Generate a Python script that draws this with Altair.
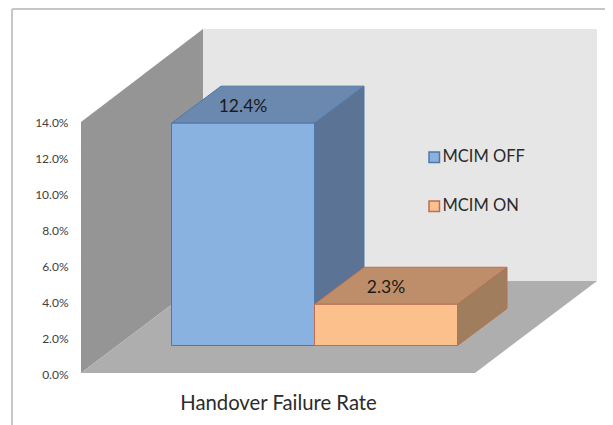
import altair as alt
import pandas as pd

# Values
series = ["MCIM OFF", "MCIM ON"]
values = [12.4, 2.3]
category = "Handover Failure Rate"
y_ticks = [0, 2, 4, 6, 8, 10, 12, 14]

# Colours
front_fill = ["#8AB2E1", "#FCC08D"]
top_fill = ["#6B88AE", "#BD8E69"]
side_fill = ["#5B7496", "#A07E5D"]
edge = ["#4F77A8", "#B86F55"]

# Layout (plot px per unit and projection offsets)
PW, PH = 524, 344
PX_PER_PCT = 17.93
WALL_DX, WALL_DY = 122, 92 / PX_PER_PCT
WALL_W, WALL_H = 394, 252 / PX_PER_PCT
BAR_DX, BAR_DY = 49.5, 37 / PX_PER_PCT
BAR_W = 143
BAR_X0 = 90.5
BAR_Y0 = 27.5 / PX_PER_PCT
FONT = "Lato"

xs = alt.Scale(domain=[0, PW], nice=False, zero=False)
ys = alt.Scale(domain=[0, PH / PX_PER_PCT], nice=False, zero=False)
xaxis = alt.Axis(title=category, labels=False, ticks=False, domain=False, grid=False,
                 titleFont=FONT, titleFontSize=20.3, titleFontWeight="normal",
                 titleColor="#2b2b2b", titleX=197, titleY=20)
yaxis = alt.Axis(title=None, values=y_ticks, labelExpr="format(datum.value, '.1f') + '%'",
                 ticks=False, domain=False, grid=False, labelPadding=13, labelOffset=1,
                 labelFont=FONT, labelFontSize=12, labelColor="#404040")
X = alt.X("x:Q", scale=xs, axis=xaxis)
Y = alt.Y("y:Q", scale=ys, axis=yaxis)


def vface(x0, x1, y0a, y0b, y1a, y1b, fill, stroke=None):
    """Face with vertical left/right sides."""
    df = pd.DataFrame({"x": [x0, x1], "y": [y0a, y1a], "y2": [y0b, y1b]})
    kw = dict(stroke=stroke, strokeWidth=1) if stroke else {}
    return alt.Chart(df).mark_area(fill=fill, opacity=1, **kw).encode(
        x=X, y=Y, y2=alt.Y2("y2:Q"))


def hface(y0, y1, x0a, x0b, x1a, x1b, fill, stroke=None):
    """Face with horizontal bottom/top sides."""
    df = pd.DataFrame({"y": [y0, y1], "x": [x0a, x1a], "x2": [x0b, x1b]})
    kw = dict(stroke=stroke, strokeWidth=1) if stroke else {}
    return alt.Chart(df).mark_area(orient="horizontal", fill=fill, opacity=1, **kw).encode(
        x=X, x2=alt.X2("x2:Q"), y=Y)


layers = [
    # Outer frame
    alt.Chart(pd.DataFrame({"a": [0]})).mark_rule(color="#C6C6C6", strokeWidth=2).encode(
        x=alt.value(-69), y=alt.value(-20), y2=alt.value(396)),
    alt.Chart(pd.DataFrame({"a": [0]})).mark_rule(color="#C6C6C6", strokeWidth=2).encode(
        x=alt.value(-69), x2=alt.value(PW), y=alt.value(-20)),
    # Back wall, side wall, floor
    vface(WALL_DX, WALL_DX + WALL_W, WALL_DY, WALL_DY + WALL_H, WALL_DY, WALL_DY + WALL_H, "#E6E6E6"),
    vface(0, WALL_DX, 0, 14, WALL_DY, WALL_DY + WALL_H, "#959595"),
    hface(0, WALL_DY, 0, WALL_W, WALL_DX, WALL_DX + WALL_W, "#AEAEAE"),
]

rows = []
for i, (name, v) in enumerate(zip(series, values)):
    x0 = BAR_X0 + i * BAR_W
    x1 = x0 + BAR_W
    top = BAR_Y0 + v
    layers.append(vface(x1, x1 + BAR_DX, BAR_Y0, top, BAR_Y0 + BAR_DY, top + BAR_DY, side_fill[i], edge[i]))
    layers.append(hface(top, top + BAR_DY, x0, x1, x0 + BAR_DX, x1 + BAR_DX, top_fill[i], edge[i]))
    rows.append(dict(series=name, value=v, x=x0, x2=x1, y=top, y2=BAR_Y0,
                     lx=(x0 + x1) / 2, ly=top + BAR_DY / 2 - 2.5 / PX_PER_PCT,
                     label=f"{v:.1f}%"))
df = pd.DataFrame(rows)

legend = alt.Legend(title=None, orient="none", legendX=345, legendY=120, symbolType="square",
                    symbolSize=110, symbolStrokeWidth=1.5, labelFont=FONT, labelFontSize=16.5,
                    labelColor="#2b2b2b", rowPadding=32, labelOffset=0)
fronts = alt.Chart(df).mark_rect(strokeWidth=1, opacity=1).encode(
    x=X, x2=alt.X2("x2:Q"), y=Y, y2=alt.Y2("y2:Q"),
    fill=alt.Fill("series:N", scale=alt.Scale(domain=series, range=front_fill), legend=legend),
    stroke=alt.Stroke("series:N", scale=alt.Scale(domain=series, range=edge), legend=legend),
)
labels = alt.Chart(df).mark_text(font=FONT, fontSize=17.5, color="#1a1a1a").encode(
    x=alt.X("lx:Q", scale=xs, axis=xaxis), y=alt.Y("ly:Q", scale=ys, axis=yaxis), text="label:N")

chart = alt.layer(*layers, fronts, labels).properties(
    width=PW, height=PH,
    padding={"left": 73, "top": 21, "right": 0, "bottom": 52},
    autosize=alt.AutoSizeParams(type="none"),
    background="white",
).configure_view(stroke=None)

chart.save("out.html", embed_options={"renderer": "svg", "actions": False})
